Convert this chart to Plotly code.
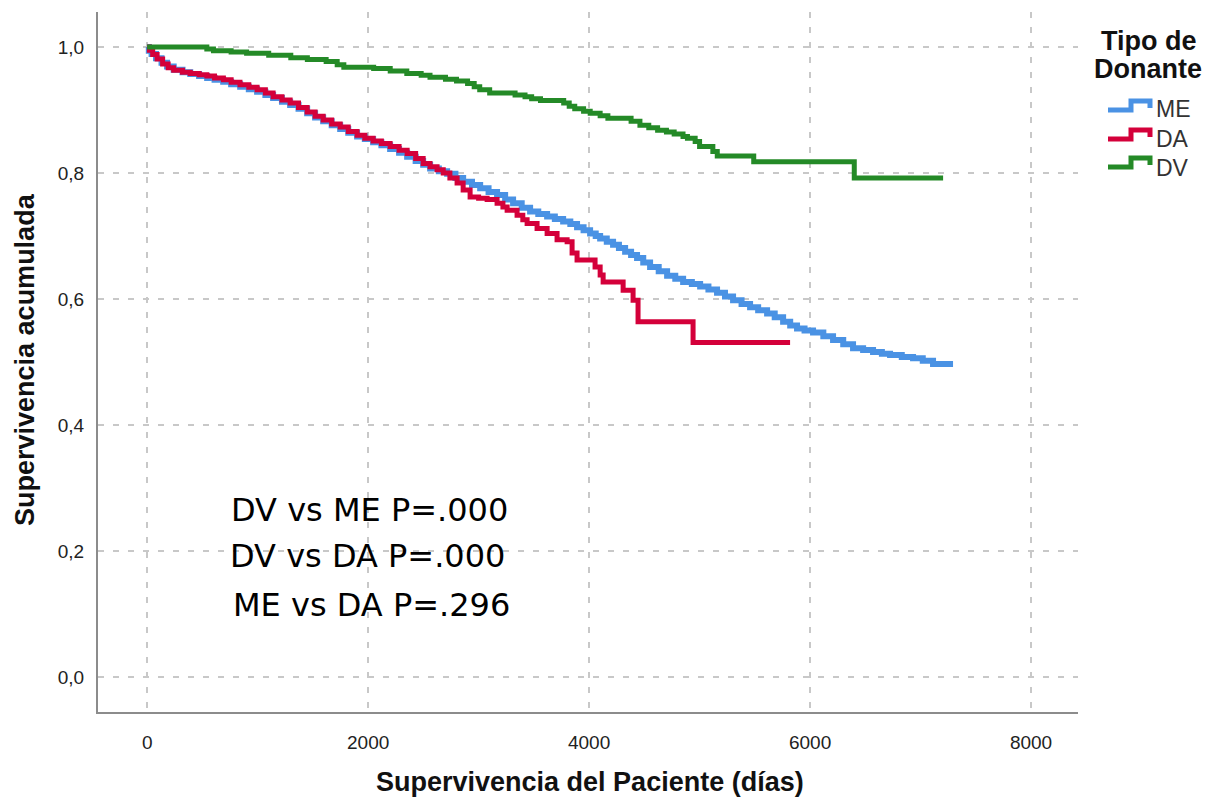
import plotly.graph_objects as go

# Kaplan-Meier estimates by donor type (time in days, cumulative survival)
me_t = [0, 15, 40, 80, 130, 180, 240, 320, 390, 470, 543, 610, 688, 760, 842, 920, 995, 1070, 1140, 1220,
        1294, 1370, 1448, 1520, 1593, 1670, 1747, 1820, 1900, 1970, 2045, 2120, 2199, 2280, 2353, 2430,
        2498, 2561, 2640, 2715, 2790, 2860, 2940, 3014, 3090, 3167, 3240, 3312, 3390, 3466, 3540, 3620,
        3690, 3765, 3830, 3891, 3950, 4009, 4060, 4100, 4160, 4217, 4270, 4326, 4380, 4434, 4490, 4552,
        4630, 4706, 4780, 4851, 4930, 5005, 5080, 5158, 5230, 5303, 5380, 5457, 5530, 5611, 5680, 5756,
        5820, 5882, 5950, 6027, 6120, 6208, 6300, 6389, 6480, 6570, 6650, 6724, 6830, 6932, 7020, 7113, 7294]
me_s = [1.000, 0.994, 0.989, 0.982, 0.975, 0.969, 0.964, 0.960, 0.957, 0.954, 0.951, 0.948, 0.945, 0.941,
        0.937, 0.933, 0.929, 0.924, 0.919, 0.913, 0.908, 0.902, 0.895, 0.888, 0.882, 0.876, 0.870, 0.864,
        0.858, 0.854, 0.849, 0.844, 0.838, 0.832, 0.826, 0.819, 0.813, 0.807, 0.803, 0.799, 0.792, 0.786,
        0.781, 0.776, 0.770, 0.765, 0.758, 0.752, 0.745, 0.739, 0.735, 0.731, 0.727, 0.723, 0.719, 0.714,
        0.709, 0.704, 0.700, 0.696, 0.691, 0.686, 0.681, 0.675, 0.670, 0.665, 0.658, 0.651, 0.644, 0.637,
        0.632, 0.627, 0.624, 0.620, 0.615, 0.610, 0.604, 0.598, 0.592, 0.587, 0.582, 0.577, 0.571, 0.564,
        0.558, 0.553, 0.550, 0.547, 0.541, 0.535, 0.528, 0.522, 0.519, 0.516, 0.513, 0.511, 0.508, 0.506,
        0.502, 0.497, 0.497]

da_t = [0, 20, 50, 90, 140, 190, 240, 320, 390, 470, 540, 610, 690, 760, 840, 920, 995, 1070, 1140, 1220,
        1294, 1370, 1448, 1520, 1593, 1670, 1747, 1820, 1900, 1970, 2045, 2120, 2199, 2280, 2353, 2430,
        2498, 2560, 2624, 2680, 2740, 2805, 2860, 2923, 3000, 3077, 3167, 3220, 3258, 3348, 3400, 3439,
        3529, 3620, 3710, 3801, 3846, 3891, 4054, 4100, 4127, 4308, 4398, 4443, 4941, 5819]
da_s = [1.000, 0.995, 0.988, 0.981, 0.973, 0.967, 0.963, 0.960, 0.958, 0.956, 0.954, 0.951, 0.948, 0.944,
        0.940, 0.936, 0.932, 0.927, 0.921, 0.916, 0.911, 0.904, 0.897, 0.890, 0.884, 0.878, 0.873, 0.866,
        0.860, 0.855, 0.851, 0.847, 0.842, 0.836, 0.831, 0.823, 0.815, 0.810, 0.805, 0.800, 0.792, 0.784,
        0.773, 0.762, 0.760, 0.758, 0.752, 0.746, 0.741, 0.733, 0.726, 0.720, 0.712, 0.704, 0.694, 0.691,
        0.673, 0.662, 0.651, 0.638, 0.627, 0.614, 0.598, 0.564, 0.531, 0.531]

dv_t = [0, 540, 600, 760, 900, 1100, 1300, 1450, 1620, 1720, 1780, 2050, 2200, 2350, 2480, 2560, 2700,
        2800, 2900, 2960, 3010, 3100, 3330, 3420, 3480, 3560, 3770, 3820, 3870, 3950, 4010, 4100, 4170,
        4380, 4460, 4540, 4620, 4700, 4770, 4850, 4890, 4960, 5000, 5120, 5160, 5490, 6400, 7204]
dv_s = [1.000, 0.997, 0.994, 0.992, 0.990, 0.987, 0.983, 0.980, 0.977, 0.972, 0.968, 0.966, 0.962, 0.958,
        0.955, 0.952, 0.949, 0.946, 0.942, 0.937, 0.932, 0.927, 0.924, 0.921, 0.918, 0.915, 0.911, 0.906,
        0.902, 0.898, 0.895, 0.891, 0.887, 0.882, 0.876, 0.872, 0.868, 0.865, 0.862, 0.858, 0.855, 0.850,
        0.842, 0.834, 0.827, 0.818, 0.792, 0.792]

group_names = ["ME", "DA", "DV"]
group_colors = ["#4A92E4", "#D4003A", "#248A27"]
group_widths = [6, 5, 5]

x_tick_vals = [0, 2000, 4000, 6000, 8000]
x_tick_text = ["0", "2000", "4000", "6000", "8000"]
y_tick_vals = [0.0, 0.2, 0.4, 0.6, 0.8, 1.0]
y_tick_text = ["0,0", "0,2", "0,4", "0,6", "0,8", "1,0"]

comparisons = ["DV vs ME P=.000", "DV vs DA P=.000", "ME vs DA P=.296"]

# plot-area geometry in pixels (used for paper-coordinate conversions)
W, H = 1210, 799
L, R, T, B = 98, 1078, 12, 712


def px(x):
    return (x - L) / (R - L)


def py(y):
    return (B - y) / (B - T)


fig = go.Figure()
for t, s, name, color, lw in zip([me_t, da_t, dv_t], [me_s, da_s, dv_s], group_names, group_colors,
                                 group_widths):
    fig.add_trace(go.Scatter(
        x=t, y=s, mode="lines", name=name, line=dict(color=color, width=lw, shape="hv"),
        showlegend=False,
    ))

axis_font = dict(family="Liberation Sans, Arial, sans-serif", size=19, color="#222222")
grid = dict(showgrid=True, gridcolor="#c8c8c8", gridwidth=1.5, griddash="6px,9px",
            zeroline=False, showline=True, linecolor="#8c8c8c", linewidth=2, ticks="",
            tickfont=axis_font)

fig.update_xaxes(range=[-445, 8425], tickvals=x_tick_vals, ticktext=x_tick_text,
                 ticklabelstandoff=12, **grid)
fig.update_yaxes(range=[-0.0556, 1.0556], tickvals=y_tick_vals, ticktext=y_tick_text,
                 ticklabelstandoff=8, **grid)

annotations = []
title_font = dict(family="Liberation Sans, Arial, sans-serif", size=27, color="#111111")
annotations.append(dict(text="<b>Supervivencia del Paciente (días)</b>", x=px(590), y=py(782),
                        xref="paper", yref="paper", showarrow=False, font=title_font,
                        xanchor="center", yanchor="middle"))
annotations.append(dict(text="<b>Supervivencia acumulada</b>", x=px(25), y=py(360),
                        xref="paper", yref="paper", showarrow=False, font=title_font,
                        textangle=-90, xanchor="center", yanchor="middle"))

# p-value notes
note_font = dict(family="DejaVu Sans, sans-serif", size=32, color="#000000")
for label, cx, cy in zip(comparisons, [369, 367, 371], [510, 556, 605]):
    annotations.append(dict(text=label, x=px(cx), y=py(cy), xref="paper", yref="paper",
                            showarrow=False, font=note_font, xanchor="center", yanchor="middle"))

# legend block: title and step-shaped keys
legend_title_font = dict(family="Liberation Sans, Arial, sans-serif", size=27, color="#111111")
annotations.append(dict(text="<b>Tipo de</b>", x=px(1149), y=py(41), xref="paper", yref="paper",
                        showarrow=False, font=legend_title_font, xanchor="center", yanchor="middle"))
annotations.append(dict(text="<b>Donante</b>", x=px(1148), y=py(69), xref="paper", yref="paper",
                        showarrow=False, font=legend_title_font, xanchor="center", yanchor="middle"))

shapes = []
item_font = dict(family="Liberation Sans, Arial, sans-serif", size=23, color="#333333")
for name, color, ytxt, ytop in zip(group_names, group_colors, [109, 139, 168], [101, 130, 158]):
    ybot = ytop + 9
    path = (f"M {px(1108)},{py(ybot)} L {px(1131)},{py(ybot)} L {px(1131)},{py(ytop)} "
            f"L {px(1150)},{py(ytop)} L {px(1150)},{py(ybot - 2)}")
    shapes.append(dict(type="path", path=path, xref="paper", yref="paper",
                       line=dict(color=color, width=5)))
    annotations.append(dict(text=name, x=px(1154), y=py(ytxt), xref="paper", yref="paper",
                            showarrow=False, font=item_font, xanchor="left", yanchor="middle"))

fig.update_layout(
    width=W, height=H,
    margin=dict(l=L, r=W - R, t=T, b=H - B, autoexpand=False),
    paper_bgcolor="white", plot_bgcolor="white",
    annotations=annotations, shapes=shapes,
    showlegend=False,
)

fig.write_html("out.html")
